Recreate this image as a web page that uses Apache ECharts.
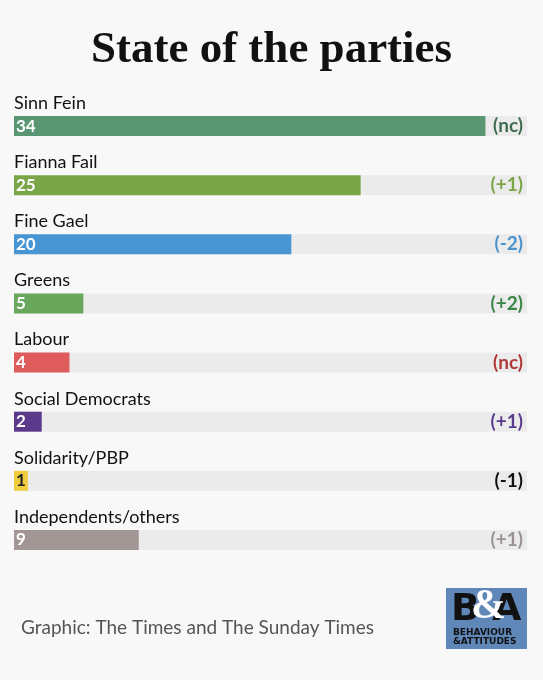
<!DOCTYPE html>
<html>
<head>
<meta charset="utf-8">
<script src="https://cdn.jsdelivr.net/npm/echarts@6/dist/echarts.min.js"></script>
<style>
html,body{margin:0;padding:0;background:#f8f8f8;}
#chart{width:543px;height:680px;}
</style>
</head>
<body>
<div id="chart"></div>
<script>
const parties = ["Sinn Fein","Fianna Fail","Fine Gael","Greens","Labour","Social Democrats","Solidarity/PBP","Independents/others"];
const seats = [34, 25, 20, 5, 4, 2, 1, 9];
const changes = ["(nc)","(+1)","(-2)","(+2)","(nc)","(+1)","(-1)","(+1)"];
const barColors = ["#5a9672","#7aa548","#4795d2","#6aa65c","#df5c5c","#5b3a8c","#efcd3f","#a39796"];
const changeColors = ["#3f6b50","#7aa548","#4b93cc","#3a8548","#b03838","#5b3a8c","#111111","#9a9292"];
const valueLabelColors = ["#ffffff","#ffffff","#ffffff","#ffffff","#ffffff","#ffffff","#222222","#ffffff"];

const chart = echarts.init(document.getElementById('chart'), null, {renderer:'canvas'});
const font = 'Lato, "Open Sans", sans-serif';
chart.setOption({
  backgroundColor: '#f8f8f8',
  animation: false,
  title: [
    {
      text: 'State of the parties',
      left: 'center',
      top: 23,
      textStyle: {fontFamily: '"Liberation Serif", serif', fontWeight: 'bold', fontSize: 45, color: '#111'}
    },
    {
      text: 'Graphic: The Times and The Sunday Times',
      left: 21,
      top: 618,
      padding: 0,
      textStyle: {fontFamily: font, fontWeight: 'normal', fontSize: 19, color: '#555'}
    }
  ],
  grid: {left: 14, right: 16, top: 96.5, bottom: 110.5, containLabel: false},
  xAxis: {type: 'value', min: 0, max: 37, show: false},
  yAxis: [
    {
      type: 'category', data: parties, inverse: true, z: 10,
      axisLine: {show: false}, axisTick: {show: false}, splitLine: {show: false},
      axisLabel: {inside: true, margin: 0, align: 'left', verticalAlign: 'bottom', padding: [0,0,14,0],
        fontFamily: font, fontSize: 18, color: '#111'}
    },
    {
      type: 'category', data: changes, inverse: true, position: 'right', z: 10,
      axisLine: {show: false}, axisTick: {show: false}, splitLine: {show: false},
      axisLabel: {inside: true, margin: 4, fontFamily: font, fontWeight: 'bold', fontSize: 19,
        color: (v, i) => changeColors[i]}
    }
  ],
  series: [{
    type: 'bar',
    yAxisIndex: 0,
    barWidth: 20,
    showBackground: true,
    backgroundStyle: {color: '#ebebeb'},
    data: seats.map((v, i) => ({value: v, itemStyle: {color: barColors[i]}, label: {color: valueLabelColors[i]}})),
    label: {show: true, position: 'insideLeft', distance: 2, fontFamily: font, fontWeight: 'bold', fontSize: 17}
  }],
  graphic: [
    {type: 'rect', left: 446, top: 588, shape: {width: 81, height: 61}, style: {fill: '#5f87b8'}},
    {type: 'text', left: 451, top: 591, style: {text: 'B', font: 'bold 38px "DejaVu Sans"', fill: '#111'}},
    {type: 'text', left: 492, top: 591, style: {text: 'A', font: 'bold 38px "DejaVu Sans"', fill: '#111'}},
    {type: 'text', left: 471, top: 586, style: {text: '&', font: 'bold 42px "Liberation Serif"', fill: '#fff'}},
    {type: 'text', left: 453, top: 628, style: {text: 'BEHAVIOUR', font: 'bold 9px "DejaVu Sans"', fill: '#111'}},
    {type: 'text', left: 453, top: 637, style: {text: '&ATTITUDES', font: 'bold 9px "DejaVu Sans"', fill: '#111'}}
  ]
});
</script>
</body>
</html>
